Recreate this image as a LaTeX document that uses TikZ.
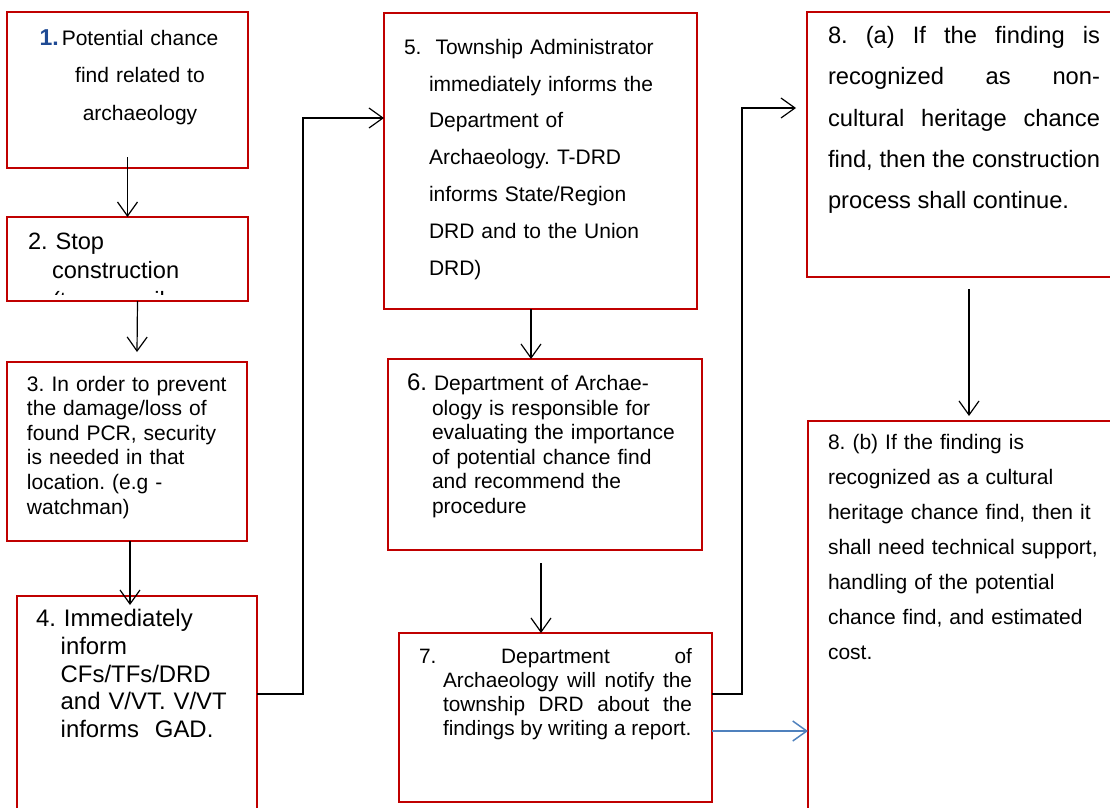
\documentclass[tikz,border=0pt]{standalone}
\usepackage{fontspec}
\setmainfont{Liberation Sans}
\usetikzlibrary{arrows.meta,calc}
\definecolor{boxred}{HTML}{C00000}
\definecolor{linkblue}{HTML}{4F81BD}
\definecolor{numblue}{HTML}{1F4A94}
\begin{document}
\frenchspacing
\begin{tikzpicture}[x=1pt,y=-1pt,
  box/.style={draw=boxred,line width=1.4pt,anchor=north west,inner sep=0pt,outer sep=0pt},
  flow/.style={draw=black,line width=1.2pt,-{Straight Barb[length=14pt,width=20pt]}},
  link/.style={draw=linkblue,line width=1.5pt,-{Straight Barb[length=14pt,width=20pt]}},
  txt/.style={anchor=base west,inner sep=0pt,outer sep=0pt,align=left,text width=#1},
  txt/.default=300pt,
]
\useasboundingbox (0,0) rectangle (1110,807);

% step boxes
\node[box,minimum width=241pt,minimum height=156pt] (b1) at (7,12) {};
\node[box,minimum width=241pt,minimum height=84pt] (b2) at (7,217) {};
\node[box,minimum width=240pt,minimum height=179pt] (b3) at (7,362) {};
\node[box,minimum width=240pt,minimum height=240pt] (b4) at (17,596) {};
\node[box,minimum width=313pt,minimum height=296pt] (b5) at (384,13) {};
\node[box,minimum width=314pt,minimum height=191pt] (b6) at (388,359) {};
\node[box,minimum width=313pt,minimum height=169pt] (b7) at (399,633) {};
\node[box,minimum width=320pt,minimum height=265pt] (b8a) at (807,12) {};
\node[box,minimum width=320pt,minimum height=420pt] (b8b) at (808,421) {};

% step texts
\node[txt=230pt,align=center,anchor=base,font=\fontsize{21}{37.4}\selectfont] (t1) at (140,45.5)
  {\llap{\textcolor{numblue}{\fontsize{23}{23}\selectfont\bfseries 1.}\hspace{3pt}}Potential chance\\find related to\\archaeology};

\begin{scope}
  \clip (b2.north west) rectangle ([yshift=7pt]b2.south east);
  \node[txt,font=\fontsize{23.6}{29.5}\selectfont] (t2) at (28,249)
    {2. Stop\\\hspace*{24pt}construction\\\hspace*{24pt}(temporarily};
\end{scope}

\node[txt,font=\fontsize{21}{24.66}\selectfont] (t3) at (27,391)
  {3. In order to prevent\\the damage/loss of\\found PCR, security\\is needed in that\\location. (e.g -\\watchman)};

\node[txt,font=\fontsize{23.9}{27.65}\selectfont] (t4) at (36,626.7)
  {4. Immediately\\\hspace*{24.7pt}inform\\\hspace*{24.7pt}CFs/TFs/DRD\\\hspace*{24.7pt}and V/VT. V/VT\\\hspace*{24.7pt}informs\ \ GAD.};

\node[txt,font=\fontsize{21}{36.8}\selectfont] (t5) at (404,54.3)
  {5.\ \ Township Administrator\\\hspace*{25pt}immediately informs the\\\hspace*{25pt}Department of\\\hspace*{25pt}Archaeology. T-DRD\\\hspace*{25pt}informs State/Region\\\hspace*{25pt}DRD and to the Union\\\hspace*{25pt}DRD)};

\node[txt,font=\fontsize{21}{24.5}\selectfont] (t6) at (407,390.7)
  {{\fontsize{24}{24}\selectfont 6.} Department of Archae-\\\hspace*{25pt}ology is responsible for\\\hspace*{25pt}evaluating the importance\\\hspace*{25pt}of potential chance find\\\hspace*{25pt}and recommend the\\\hspace*{25pt}procedure};

\node[txt=273pt,align=justify,font=\fontsize{20.8}{24.2}\selectfont] (t7) at (419,663.3)
  {7. Department of\linebreak\hspace*{24pt}Archaeology will notify the\linebreak\hspace*{24pt}township DRD about the\linebreak\hspace*{24pt}findings by writing a report.};

\node[txt=272pt,align=justify,font=\fontsize{23.7}{41.4}\selectfont] (t8a) at (828,43.3)
  {8. (a) If the finding is\linebreak recognized as non-\linebreak cultural heritage chance\linebreak find, then the construction\linebreak process shall continue.};

\node[txt,font=\fontsize{21}{35.1}\selectfont] (t8b) at (828,449.3)
  {8. (b) If the finding is\\recognized as a cultural\\heritage chance find, then it\\shall need technical support,\\handling of the potential\\chance find, and estimated\\cost.};

% connectors
\draw[flow] ([yshift=11pt]b1.south) -- (b2.north);
\draw[flow] ([xshift=10pt]b2.south) -- ([xshift=10pt,yshift=10pt]b3.north);
\draw[flow] ([xshift=3pt]b3.south) -- ([xshift=-7pt,yshift=-9pt]b4.north);

\coordinate (j45) at (303,118);
\draw[flow] ([yshift=-98pt]b4.north east) -| (j45) -- (j45 -| b5.west);

\coordinate (p56) at ([xshift=-9.5pt]b5.south);
\draw[flow] (p56) -- (p56 |- b6.north);

\coordinate (p67) at ([xshift=-4pt,yshift=-13pt]b6.south);
\draw[flow] (p67) -- (p67 |- b7.north);

\coordinate (p78) at ([yshift=-61pt]b7.north east);
\coordinate (j78) at (742,108);
\draw[flow,shorten >=11pt] (p78) -| (j78) -- (j78 -| b8a.west);

\coordinate (p7b) at ([yshift=-98pt]b7.north east);
\draw[link] (p7b) -- (p7b -| b8b.west);

\coordinate (p8) at (969,289);
\draw[flow,shorten >=5pt] (p8) -- (p8 |- b8b.north);
\end{tikzpicture}
\end{document}
